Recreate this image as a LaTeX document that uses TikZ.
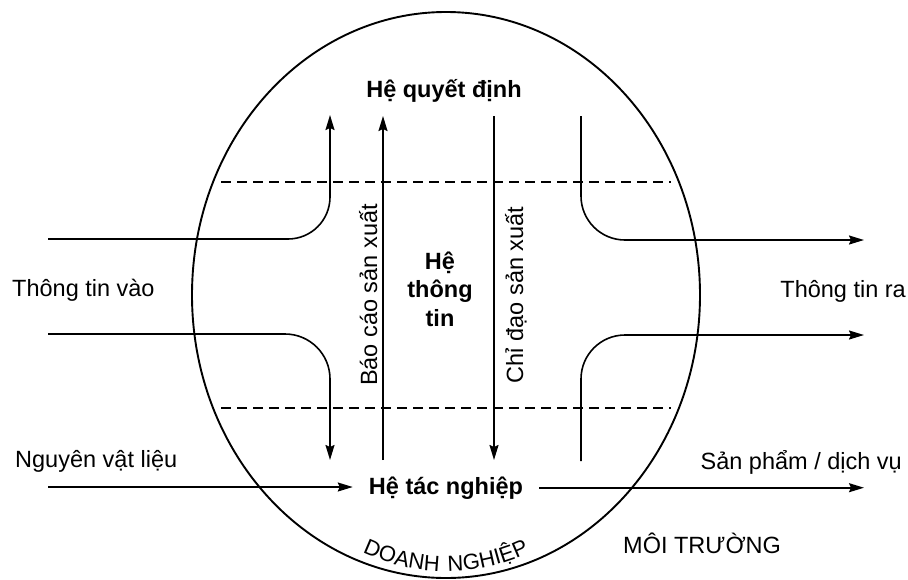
\documentclass[tikz,border=0pt]{standalone}
\usepackage{fontspec}
\setmainfont{Liberation Sans}
\newfontfamily\arcfont{Liberation Sans}[LetterSpace=12]
\usetikzlibrary{
    arrows.meta,
    decorations.text
}
\tikzset{
  lbl/.style     = {inner sep=0pt, font=\fontsize{23.5}{28.5}\selectfont},
  blbl/.style    = {lbl, font=\fontsize{23.5}{28.5}\selectfont\bfseries},
  arr/.style     = {-{Stealth[length=15pt,width=9pt,inset=2pt]}, line width=1.6pt},
  sepline/.style = {dash pattern=on 10pt off 6pt, line width=1.5pt}
}

\begin{document}
\begin{tikzpicture}[x=1pt,y=-1pt]
\useasboundingbox (0,0) rectangle (908,579);
% enterprise and its layers
\draw[line width=1.9pt] (446,295) ellipse [x radius=254pt, y radius=283pt];
\draw[sepline] (221,182) -- (671,182);
\draw[sepline] (221,408) -- (671,408);

\node[blbl, anchor=base] (quyetdinh) at (444,97) {Hệ quyết định};
\node[blbl, align=center] (thongtin) at (440,289) {Hệ\\thông\\tin};
\node[blbl, anchor=base, inner xsep=16pt] (tacnghiep) at (446,494) {Hệ tác nghiệp};

\node[lbl, anchor=base west] (vao) at (12,296) {Thông tin vào};
\node[lbl, anchor=base east] (ra) at (906,297) {Thông tin ra};
\node[lbl, anchor=base west] (nvl) at (15,467) {Nguyên vật liệu};
\node[lbl, anchor=base east] (sp) at (902,469) {Sản phẩm / dịch vụ};
\node[lbl, anchor=base west] (moitruong) at (623,553) {MÔI TRƯỜNG};

% information in
\coordinate (vaoA) at (48,239);
\coordinate (vaoB) at (48,334);
\draw[arr, rounded corners=42pt] (vaoA) -- (330,239) -- (330,115);
\draw[arr, rounded corners=45pt] (vaoB) -- (330,334) -- (330,460);

% reports up, orders down
\coordinate (bcBot) at (383,460);
\coordinate (bcTop) at (383,116);
\draw[arr] (bcBot) -- (bcTop);
\node[lbl, rotate=90, anchor=base] (baocao) at (377,295) {Báo cáo sản xuất};
\coordinate (cdTop) at (494,116);
\coordinate (cdBot) at (494,460);
\draw[arr] (cdTop) -- (cdBot);
\node[lbl, rotate=90, anchor=base] (chidao) at (523,295) {Chỉ đạo sản xuất};

% information out
\coordinate (raA) at (864,240);
\coordinate (raB) at (864,335);
\draw[arr, rounded corners=44pt] (581,116) -- (581,240) -- (raA);
\draw[arr, rounded corners=44pt] (581,461) -- (581,335) -- (raB);

% material flow
\coordinate (nvlA) at (48,487);
\coordinate (spB) at (864,487);
\draw[arr] (nvlA) -- (nvlA -| tacnghiep.west);
\draw[arr] (tacnghiep.east) -- (tacnghiep.east -| spB);

\path[decorate, decoration={text along path, text align=center,
  text={|\arcfont\fontsize{22}{22}\selectfont|DOANH NGHIỆP}}]
  (330,533) .. controls (398,584) and (494,584) .. (562,533);
\end{tikzpicture}
\end{document}
